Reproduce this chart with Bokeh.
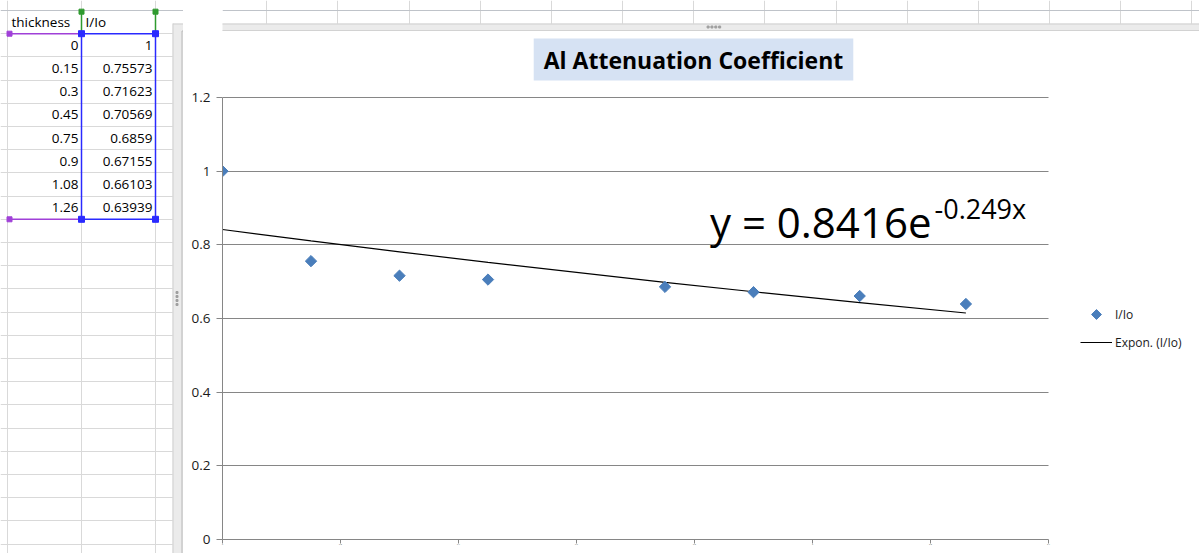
import numpy as np
from bokeh.plotting import figure
from bokeh.layouts import row, column
from bokeh.models import (Range1d, FixedTicker, Grid, Label, Legend, LegendItem)
from bokeh.core.properties import value
from bokeh.embed import file_html
from bokeh.resources import INLINE

# ---------------- data ----------------
thickness = [0, 0.15, 0.3, 0.45, 0.75, 0.9, 1.08, 1.26]
intensity_ratio = [1, 0.75573, 0.71623, 0.70569, 0.6859, 0.67155, 0.66103, 0.63939]
thickness_text = ["0", "0.15", "0.3", "0.45", "0.75", "0.9", "1.08", "1.26"]
ratio_text = ["1", "0.75573", "0.71623", "0.70569", "0.6859", "0.67155", "0.66103", "0.63939"]
column_headers = ["thickness", "I/Io"]
trend_coef = 0.8416
trend_exp = -0.249
x_ticks = [0, 0.2, 0.4, 0.6, 0.8, 1.0, 1.2, 1.4]
y_ticks = [0, 0.2, 0.4, 0.6, 0.8, 1, 1.2]
y_tick_labels = ["0", "0.2", "0.4", "0.6", "0.8", "1", "1.2"]
chart_title = "Al Attenuation Coefficient"
series_name = "I/Io"
trend_name = "Expon. (I/Io)"
equation_main = "y = 0.8416e"
equation_sup = "-0.249x"

FONT = "Open Sans"
X_MAX, Y_MAX = 1.4, 1.2
SERIES_COLOR = "#4a7ebb"

# ---------------- page geometry (pixels) ----------------
W, H = 1199, 553
SPLIT_X = 183          # where the chart object begins
CHART_TOP = 31
PLOT_L, PLOT_R, PLOT_T, PLOT_B = 222, 1048, 97, 539
LEG_X, LEG_TOP, LEG_ROW, LEG_GAP = 1080, 304, 20, 8
GLYPH_W = 32

# ---------------- spreadsheet geometry helpers ----------------
COL_W, COL_X0 = 74.0, 7.0
ROW_H, ROW_Y0 = 23.2, 10.0
def cx(px):
    return (px - COL_X0) / COL_W
def ry(py):
    return (py - ROW_Y0) / ROW_H

GRID_C = "#d9d9d9"
BAND_FILL = "#ebebeb"

def sheet_fig(w, h, x0, x1, y0, y1):
    f = figure(width=w, height=h, x_range=Range1d(cx(x0), cx(x1)),
               y_range=Range1d(ry(y1), ry(y0)), x_axis_type=None, y_axis_type=None,
               toolbar_location=None, output_backend="svg", min_border=0)
    f.outline_line_color = None
    f.background_fill_color = "white"
    f.border_fill_color = "white"
    return f

# ---------------- left: spreadsheet ----------------
left = sheet_fig(SPLIT_X, H, 0, SPLIT_X, 0, H)
left.add_layout(Grid(dimension=0, ticker=FixedTicker(ticks=[0, 1, 2]),
                     grid_line_color=GRID_C))
left.add_layout(Grid(dimension=1, ticker=FixedTicker(ticks=list(range(1, 25))),
                     grid_line_color=GRID_C))
left.add_layout(Grid(dimension=1, ticker=FixedTicker(ticks=[0]),
                     grid_line_color="#bfc3c9"))

rows_y = [i + 1.5 for i in range(len(thickness))]
left.text(x=[1] * len(thickness), y=rows_y, text=thickness_text, x_offset=-3,
          text_align="right", text_baseline="middle", text_font=value(FONT),
          text_font_size="13.5px", text_color="black")
left.text(x=[2] * len(intensity_ratio), y=rows_y, text=ratio_text, x_offset=-3,
          text_align="right", text_baseline="middle", text_font=value(FONT),
          text_font_size="13.5px", text_color="black")
left.text(x=[0, 1], y=[0.5, 0.5], text=column_headers, x_offset=4,
          text_align="left", text_baseline="middle", text_font=value(FONT),
          text_font_size="13.5px", text_color="black")

n = len(thickness)
PURPLE, BLUE, GREEN = "#a040d8", "#2a2aff", "#2f9a2f"
left.segment(x0=[0, 0], y0=[1, n + 1], x1=[1, 1], y1=[1, n + 1], line_color=PURPLE, line_width=1.5)
left.scatter(x=[cx(9), cx(9)], y=[1, n + 1], marker="square", size=5, color=PURPLE)
left.segment(x0=[1, 2], y0=[0, 0], x1=[1, 2], y1=[1, 1], line_color=GREEN, line_width=1.5)
left.scatter(x=[1, 2], y=[0.05, 0.05], marker="square", size=5, color=GREEN)
left.quad(left=1, right=2, top=1, bottom=n + 1, fill_alpha=0, line_color=BLUE, line_width=1.5)
left.scatter(x=[1, 2, 1, 2], y=[1, 1, n + 1, n + 1], marker="square", size=6, color=BLUE)

# chart-object frame band at the right of the sheet
left.quad(left=cx(172), right=cx(SPLIT_X + 1), top=ry(23), bottom=ry(H + 1),
          fill_color=BAND_FILL, line_color=None)
left.segment(x0=[cx(172.5), cx(181.5)], y0=[ry(23), ry(30.5)],
             x1=[cx(172.5), cx(181.5)], y1=[ry(H + 1), ry(H + 1)],
             line_color=["#cfcfcf", "#b9b9b9"], line_width=1)
left.segment(x0=[cx(172.5), cx(181.5)], y0=[ry(23.5), ry(30.5)],
             x1=[cx(SPLIT_X + 1), cx(SPLIT_X + 1)], y1=[ry(23.5), ry(30.5)],
             line_color=["#cfcfcf", "#b9b9b9"], line_width=1)
left.scatter(x=[cx(176.5)] * 4, y=[ry(292), ry(296), ry(300), ry(304)],
             marker="square", size=2, color="#a0a0a0")

# ---------------- top strip ----------------
top = sheet_fig(W - SPLIT_X, CHART_TOP, SPLIT_X, W, 0, CHART_TOP)
top.add_layout(Grid(dimension=0, ticker=FixedTicker(ticks=list(range(3, 18))),
                    grid_line_color=GRID_C))
top.add_layout(Grid(dimension=1, ticker=FixedTicker(ticks=[0]),
                    grid_line_color="#bfc3c9"))
top.quad(left=cx(SPLIT_X - 1), right=cx(W + 1), top=ry(23), bottom=ry(CHART_TOP + 1),
         fill_color=BAND_FILL, line_color=None)
top.segment(x0=[cx(SPLIT_X - 1), cx(SPLIT_X - 1)], y0=[ry(23.5), ry(30.5)],
            x1=[cx(W + 1), cx(W + 1)], y1=[ry(23.5), ry(30.5)],
            line_color=["#cfcfcf", "#b9b9b9"], line_width=1)
top.scatter(x=[cx(688), cx(692), cx(696), cx(700)], y=[ry(26.5)] * 4,
            marker="square", size=2, color="#a0a0a0")

# ---------------- chart ----------------
# the frame spans the whole chart object so that title, legend and
# equation label are inside it; axes and grid are bounded to the plot area
PX_X = (PLOT_R - PLOT_L) / X_MAX
PX_Y = (PLOT_B - PLOT_T) / Y_MAX
x_end = (W - PLOT_L) / PX_X
y_end = (PLOT_B - CHART_TOP) / PX_Y
p = figure(width=W - SPLIT_X, height=H - CHART_TOP,
           x_range=Range1d(0, x_end), y_range=Range1d(0, y_end),
           toolbar_location=None, output_backend="svg",
           min_border_left=PLOT_L - SPLIT_X, min_border_right=0,
           min_border_top=0, min_border_bottom=H - PLOT_B)
p.outline_line_color = None
p.background_fill_color = "white"
p.border_fill_color = "white"

AX = "#868686"
p.xaxis.ticker = FixedTicker(ticks=x_ticks)
p.xaxis.bounds = (0, X_MAX)
p.xaxis.major_label_overrides = {str(t): "" for t in [0, 0.2, 0.4, 0.6, 0.8, 1, 1.2, 1.4]}
p.xaxis.major_label_text_font_size = "2px"
p.xaxis.major_label_standoff = 0
p.xaxis.major_tick_out = 4
p.xaxis.major_tick_in = 0
p.xaxis.minor_tick_out = 0
p.xaxis.minor_tick_in = 0
p.xaxis.axis_line_color = AX
p.xaxis.major_tick_line_color = AX

p.yaxis.ticker = FixedTicker(ticks=y_ticks)
p.yaxis.bounds = (0, Y_MAX)
p.yaxis.major_label_overrides = {str(t): lab for t, lab in zip(y_ticks, y_tick_labels)}
p.yaxis.major_tick_out = 6
p.yaxis.major_tick_in = 0
p.yaxis.minor_tick_out = 0
p.yaxis.minor_tick_in = 0
p.yaxis.major_label_standoff = 6
p.yaxis.major_label_text_font = FONT
p.yaxis.major_label_text_font_size = "13.5px"
p.yaxis.major_label_text_color = "#1a1a1a"
p.yaxis.axis_line_color = AX
p.yaxis.major_tick_line_color = AX

p.xgrid.visible = False
if "cross_bounds" in Grid.properties():
    p.ygrid.ticker = FixedTicker(ticks=y_ticks)
    p.ygrid.cross_bounds = (0, X_MAX)
    p.ygrid.grid_line_color = AX
    p.ygrid.grid_line_width = 1
else:
    p.ygrid.visible = False
    p.segment(x0=[0] * len(y_ticks), y0=y_ticks, x1=[X_MAX] * len(y_ticks), y1=y_ticks,
              line_color=AX, line_width=1, level="underlay")

tx = np.array(thickness, dtype=float)
trend_y = trend_coef * np.exp(trend_exp * tx)
ln = p.line(tx, trend_y, line_color="black", line_width=1.2)
sc = p.scatter(thickness, intensity_ratio, marker="square", angle=np.pi / 4, size=8,
               fill_color=SERIES_COLOR, line_color=SERIES_COLOR)

# legend: Bokeh draws legend markers unrotated, so the diamond key is drawn
# as a rotated square at the key position and the legend entry uses an
# invisible proxy of the series
proxy = p.scatter(x=[], y=[], marker="square", size=7, fill_alpha=0, line_alpha=0)
legend = Legend(items=[LegendItem(label=series_name, renderers=[proxy]),
                       LegendItem(label=trend_name, renderers=[ln])],
                location=(LEG_X - PLOT_L, PLOT_B - (LEG_TOP + 2 * LEG_ROW + LEG_GAP)),
                glyph_width=GLYPH_W, glyph_height=LEG_ROW, label_height=LEG_ROW,
                label_standoff=3, spacing=LEG_GAP, padding=0, margin=0,
                border_line_color=None, background_fill_alpha=0,
                label_text_font=FONT, label_text_font_size="12px", label_text_color="#1a1a1a")
p.add_layout(legend)
key_x = (LEG_X + GLYPH_W / 2 - PLOT_L) / PX_X
key_y = (PLOT_B - (LEG_TOP + LEG_ROW / 2)) / PX_Y
p.scatter(x=[key_x], y=[key_y], marker="square", angle=np.pi / 4, size=7,
          fill_color=SERIES_COLOR, line_color=SERIES_COLOR)

p.add_layout(Label(x=693 - PLOT_L, y=PLOT_B - 59, x_units="screen", y_units="screen",
                   text=chart_title, text_align="center", text_baseline="middle",
                   text_font=FONT, text_font_style="bold", text_font_size="23px",
                   text_color="black", background_fill_color="#d6e2f3",
                   padding=dict(left=10, right=10, top=5, bottom=5)))

p.add_layout(Label(x=931 - PLOT_L, y=PLOT_B - 221, x_units="screen", y_units="screen",
                   text=equation_main, text_align="right", text_baseline="middle",
                   text_font=FONT, text_font_size="42px", text_color="black"))
p.add_layout(Label(x=934 - PLOT_L, y=PLOT_B - 208, x_units="screen", y_units="screen",
                   text=equation_sup, text_align="left", text_baseline="middle",
                   text_font=FONT, text_font_size="27px", text_color="black"))

layout = row(left, column(top, p, spacing=0), spacing=0)
open("out.html", "w").write(file_html(layout, INLINE))
